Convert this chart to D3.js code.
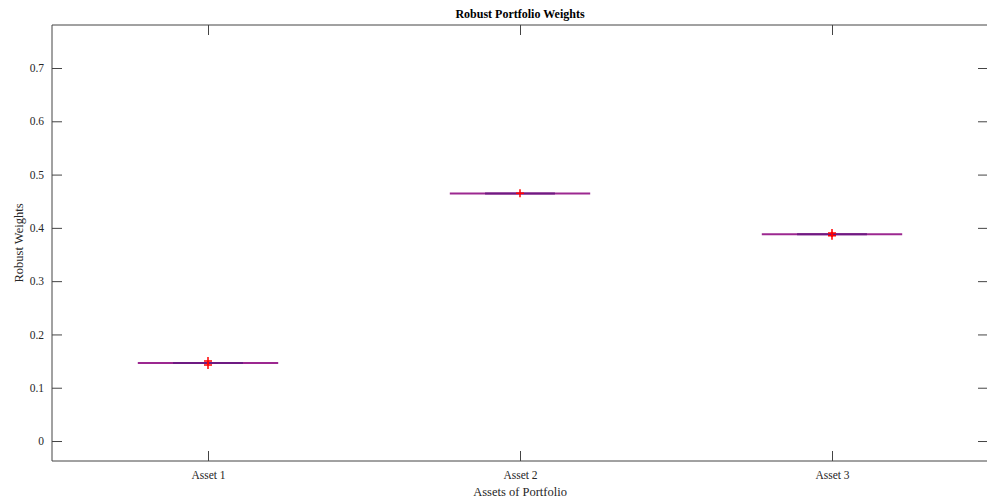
<!DOCTYPE html>
<html>
<head>
<meta charset="utf-8">
<script src="https://cdn.jsdelivr.net/npm/d3@7"></script>
<style>
  body { margin: 0; background: #fff; overflow: hidden; }
  text { font-family: "Liberation Serif", "Times New Roman", serif; }
</style>
</head>
<body>
<div id="graphContainer"></div>
<script>
"use strict";

// Data
const assets = ["Asset 1", "Asset 2", "Asset 3"];
const medians = [0.1464, 0.4646, 0.3880];
const outliers = [
    [0.1501, 0.1426],
    [0.4650],
    [0.3903, 0.3850]
];
const yTicks = [0, 0.1, 0.2, 0.3, 0.4, 0.5, 0.6, 0.7];

const graphInfo = {
    width: 987,
    height: 502,
    marginTop: 25,
    marginLeft: 52,
    plotRight: 988,
    plotBottom: 461,
    tickLen: 10,
    axisColor: "#444",
    textColor: "#262626"
};

const svg = d3.select("#graphContainer").append("svg")
    .attr("width", graphInfo.width)
    .attr("height", graphInfo.height)
    .style("display", "block");

const xScale = d3.scaleLinear()
    .domain([0.5, 3.5])
    .range([graphInfo.marginLeft, graphInfo.plotRight]);

const yScale = d3.scaleLinear()
    .domain([-0.0375, 0.7807])
    .range([graphInfo.plotBottom, graphInfo.marginTop]);

// Axes box (right edge falls just outside the window)
svg.append("path")
    .attr("d", `M${graphInfo.plotRight + 5},${graphInfo.marginTop}H${graphInfo.marginLeft}V${graphInfo.plotBottom}H${graphInfo.plotRight + 5}`)
    .attr("fill", "none")
    .attr("stroke", graphInfo.axisColor)
    .attr("stroke-width", 1);

// Left axis (ticks inside)
svg.append("g")
    .attr("transform", `translate(${graphInfo.marginLeft},0)`)
    .call(d3.axisRight(yScale).tickValues(yTicks).tickFormat(d3.format("~g")).tickSize(graphInfo.tickLen))
    .call(g => g.select(".domain").remove())
    .call(g => g.selectAll(".tick line").attr("stroke", graphInfo.axisColor))
    .call(g => g.selectAll(".tick text")
        .attr("x", -8)
        .attr("text-anchor", "end")
        .attr("fill", graphInfo.textColor)
        .attr("font-size", 11.5));

// Right axis ticks
svg.append("g")
    .attr("transform", `translate(${graphInfo.plotRight},0)`)
    .call(d3.axisLeft(yScale).tickValues(yTicks).tickFormat("").tickSize(graphInfo.tickLen))
    .call(g => g.select(".domain").remove())
    .call(g => g.selectAll(".tick line").attr("stroke", graphInfo.axisColor));

// Bottom axis
svg.append("g")
    .attr("transform", `translate(0,${graphInfo.plotBottom})`)
    .call(d3.axisTop(xScale).tickValues([1, 2, 3]).tickFormat((d, i) => assets[i]).tickSize(graphInfo.tickLen))
    .call(g => g.select(".domain").remove())
    .call(g => g.selectAll(".tick line").attr("stroke", graphInfo.axisColor))
    .call(g => g.selectAll(".tick text")
        .attr("y", 18)
        .attr("dy", 0)
        .attr("fill", graphInfo.textColor)
        .attr("font-size", 11.5));

// Top axis ticks
svg.append("g")
    .attr("transform", `translate(0,${graphInfo.marginTop})`)
    .call(d3.axisBottom(xScale).tickValues([1, 2, 3]).tickFormat("").tickSize(graphInfo.tickLen))
    .call(g => g.select(".domain").remove())
    .call(g => g.selectAll(".tick line").attr("stroke", graphInfo.axisColor));

// Collapsed boxplots: whisker line, box line, outliers
const boxes = svg.append("g")
    .selectAll("g")
    .data(medians)
    .join("g");

boxes.append("line")
    .attr("x1", (d, i) => xScale(i + 1 - 0.225))
    .attr("x2", (d, i) => xScale(i + 1 + 0.225))
    .attr("y1", d => yScale(d))
    .attr("y2", d => yScale(d))
    .attr("stroke", "#9c2890")
    .attr("stroke-width", 2);

boxes.append("line")
    .attr("x1", (d, i) => xScale(i + 1 - 0.112))
    .attr("x2", (d, i) => xScale(i + 1 + 0.112))
    .attr("y1", d => yScale(d))
    .attr("y2", d => yScale(d))
    .attr("stroke", "#6e1a82")
    .attr("stroke-width", 2);

// Outlier markers as red "+"
const pts = [];
outliers.forEach((vals, i) => vals.forEach(v => pts.push({ x: i + 1, y: v })));

svg.append("g")
    .attr("stroke", "#ff0000")
    .attr("stroke-width", 1.5)
    .selectAll("path")
    .data(pts)
    .join("path")
    .attr("d", d => {
        const cx = xScale(d.x), cy = yScale(d.y);
        return `M${cx - 4},${cy}H${cx + 4}M${cx},${cy - 4}V${cy + 4}`;
    });

// Title and axis labels
svg.append("text")
    .attr("x", (graphInfo.marginLeft + graphInfo.plotRight) / 2)
    .attr("y", 18)
    .attr("text-anchor", "middle")
    .attr("font-weight", "bold")
    .attr("font-size", 12)
    .attr("fill", "#000")
    .text("Robust Portfolio Weights");

svg.append("text")
    .attr("x", (graphInfo.marginLeft + graphInfo.plotRight) / 2)
    .attr("y", 496)
    .attr("text-anchor", "middle")
    .attr("font-size", 12.5)
    .attr("fill", graphInfo.textColor)
    .text("Assets of Portfolio");

svg.append("text")
    .attr("transform", `translate(23,${(graphInfo.marginTop + graphInfo.plotBottom) / 2}) rotate(-90)`)
    .attr("text-anchor", "middle")
    .attr("font-size", 12.5)
    .attr("fill", graphInfo.textColor)
    .text("Robust Weights");
</script>
</body>
</html>
